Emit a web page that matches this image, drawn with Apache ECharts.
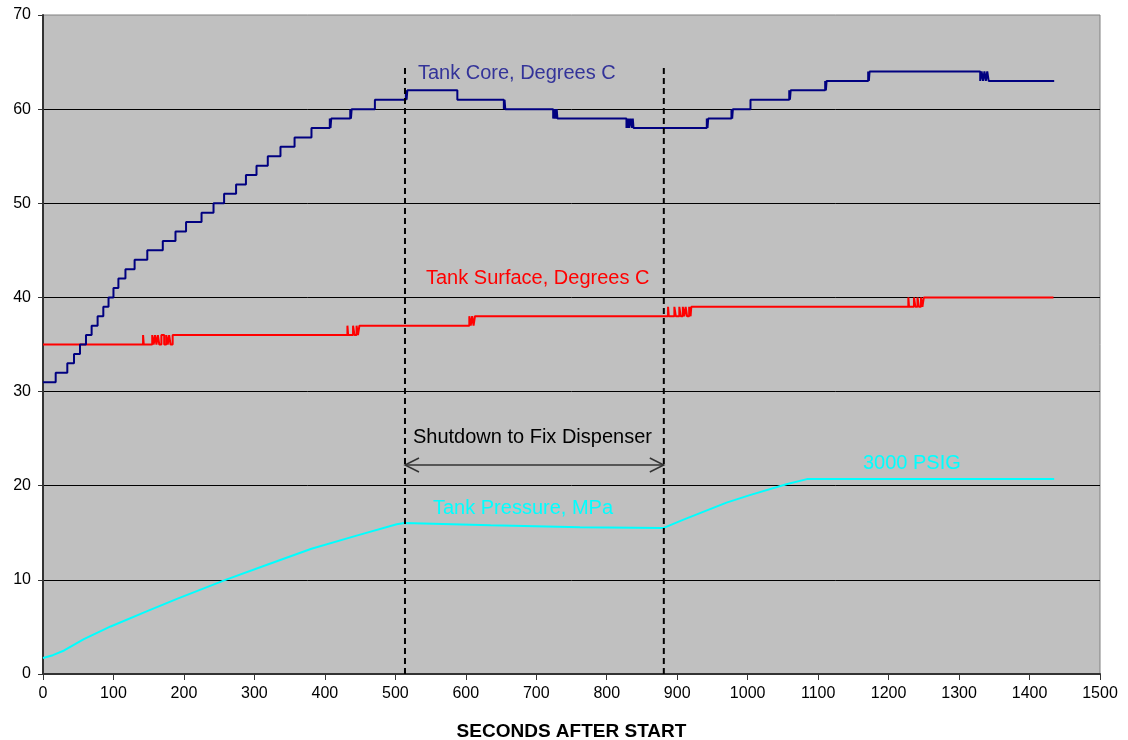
<!DOCTYPE html>
<html>
<head>
<meta charset="utf-8">
<script src="https://cdn.jsdelivr.net/npm/echarts@6/dist/echarts.min.js"></script>
<style>
html,body{margin:0;padding:0;background:#fff;}
#chart{width:1128px;height:740px;}
</style>
</head>
<body>
<div id="chart"></div>
<script>
// ---- Data ----
// Tank core temperature: change points [seconds, degrees C]
const coreT = [0,18,34.5,44,52.5,61,69,77.5,85.6,93,100,107,117,130,148,170,188,203,225,242,257,274,288,303,319,337,357,381,
  407,408,409, 436,437,438, 471, 515,516,517, 588,
  654,655,656, 724,725,726,727,728,729,730,
  828,829,830,831,832,834,836,837,838,
  942,943,944, 977,978,979, 1004, 1059,1060,1061, 1110,1111,1112, 1171,1172,1173,
  1330,1332,1334,1336,1338,1340,1342, 1435];
const coreV = [31,32,33,34,35,36,37,38,39,40,41,42,43,44,45,46,47,48,49,50,51,52,53,54,55,56,57,58,
  59,58,59, 60,59,60, 61, 62,61,62, 61,
  60,61,60, 59,60,59,60,59,60,59,
  58,59,58,59,58,59,58,59,58,
  59,58,59, 60,59,60, 61, 62,61,62, 63,62,63, 64,63,64,
  63,64,63,64,63,64,63, 63];

// Tank surface temperature: change points [seconds, degrees C]
const surfT = [0,142,143,155,157,159,161,163,165,168,172,175,177,179,181,184,
  432,433,440,442,445,447,449,
  605,607,609,611,613,
  887,888,896,898,903,905,908,910,912,914,917,919,920,
  1228,1229,1236,1238,1241,1243,1246,1248,1250,1434];
const surfV = [35,36,35,36,35,36,35,36,35,36,35,36,35,36,35,36,
  37,36,37,36,37,36,37,
  38,37,38,37,38,
  39,38,39,38,39,38,39,38,39,38,39,38,39,
  40,39,40,39,40,39,40,39,40,40];

// Tank pressure [seconds, MPa]
const presT = [0,14,30,58,96,147,191,259,318,381,445,502,513,635,762,880,909,970,1003,1055,1084,1435];
const presV = [1.7,2.0,2.5,3.7,5.05,6.65,8.0,10,11.6,13.3,14.7,15.9,16.05,15.8,15.6,15.5,16.4,18.2,19.0,20.15,20.7,20.7];

// Shutdown interval (dashed markers) and annotation labels
const shutdown = [513.7, 881];
const shutdownTop = 64.5;
const arrowLevel = 22.2;
const labelText = ['Tank Core, Degrees C','Tank Surface, Degrees C','Shutdown to Fix Dispenser','Tank Pressure, MPa','3000 PSIG'];
const labelX = [532, 543.5, 525, 553.4, 1163.6];
const labelY = [63.75, 41.96, 25.07, 17.63, 22.41];
const labelColor = ['#333399','#FF0000','#000000','#00FFFF','#00FFFF'];

const xTicks = {min:0, max:1500, interval:100};
const yTicks = {min:0, max:70, interval:10};

const zip = (a,b) => a.map((v,i)=>[v,b[i]]);
const FONT = '"Liberation Sans", Arial, sans-serif';

const chart = echarts.init(document.getElementById('chart'), null, {renderer:'canvas'});
chart.setOption({
  animation:false,
  backgroundColor:'#ffffff',
  grid:{left:43, right:28, top:15, bottom:66, containLabel:false, outerBoundsMode:'none',
    show:true, backgroundColor:'#C0C0C0', borderColor:'#808080', borderWidth:1},
  xAxis:{
    type:'value', min:xTicks.min, max:xTicks.max, interval:xTicks.interval,
    name:'SECONDS AFTER START', nameLocation:'middle', nameGap:48,
    nameTextStyle:{fontFamily:FONT, fontSize:19, fontWeight:'bold', color:'#000'},
    axisLine:{show:true, onZero:false, lineStyle:{color:'#333333', width:2}},
    axisTick:{show:true, inside:false, length:6, lineStyle:{color:'#333333', width:1}},
    axisLabel:{fontFamily:FONT, fontSize:16, color:'#000', margin:12, formatter:v=>String(v)},
    splitLine:{show:false}
  },
  yAxis:{
    type:'value', min:yTicks.min, max:yTicks.max, interval:yTicks.interval,
    axisLine:{show:true, onZero:false, lineStyle:{color:'#333333', width:2}},
    axisTick:{show:true, inside:false, length:5, lineStyle:{color:'#333333', width:1}},
    axisLabel:{fontFamily:FONT, fontSize:16, color:'#000', margin:12, formatter:v=>String(v)},
    splitLine:{show:true, showMinLine:false, showMaxLine:false, lineStyle:{color:'#000000', width:1}}
  },
  series:[
    {type:'line', name:'Tank Pressure', data:zip(presT,presV), showSymbol:false, symbol:'none',
      lineStyle:{color:'#00FFFF', width:2}, z:3},
    {type:'line', name:'Tank Surface', step:'end', data:zip(surfT,surfV), showSymbol:false, symbol:'none',
      lineStyle:{color:'#FF0000', width:2}, z:4},
    {type:'line', name:'Tank Core', step:'end', data:zip(coreT,coreV), showSymbol:false, symbol:'none',
      lineStyle:{color:'#000080', width:2}, z:5},
    {type:'custom', name:'shutdown', z:6, silent:true,
      data:shutdown.map(s=>[s,0]),
      renderItem:function(params, api){
        const p0 = api.coord([api.value(0), 0]);
        const p1 = api.coord([api.value(0), shutdownTop]);
        return {type:'line', shape:{x1:p0[0], y1:p0[1], x2:p1[0], y2:p1[1]},
          style:{stroke:'#000', lineWidth:2, lineDash:[6,4]}};
      }},
    {type:'custom', name:'arrow', z:6, silent:true,
      data:[[shutdown[0], arrowLevel]],
      renderItem:function(params, api){
        const a = api.coord([shutdown[0], arrowLevel]);
        const b = api.coord([shutdown[1], arrowLevel]);
        const st = {stroke:'#333333', lineWidth:1.5, fill:null};
        return {type:'group', children:[
          {type:'line', shape:{x1:a[0], y1:a[1], x2:b[0], y2:b[1]}, style:st},
          {type:'polyline', shape:{points:[[a[0]+14,a[1]-7],[a[0],a[1]],[a[0]+14,a[1]+7]]}, style:st},
          {type:'polyline', shape:{points:[[b[0]-14,b[1]-7],[b[0],b[1]],[b[0]-14,b[1]+7]]}, style:st}
        ]};
      }},
    {type:'custom', name:'labels', z:7, silent:true,
      data:zip(labelX,labelY),
      renderItem:function(params, api){
        const i = params.dataIndex;
        const p = api.coord([labelX[i], labelY[i]]);
        return {type:'text', x:p[0], y:p[1],
          style:{text:labelText[i], fill:labelColor[i], font:'20px ' + FONT, textAlign:'left', textVerticalAlign:'middle'}};
      }}
  ]
});
</script>
</body>
</html>
